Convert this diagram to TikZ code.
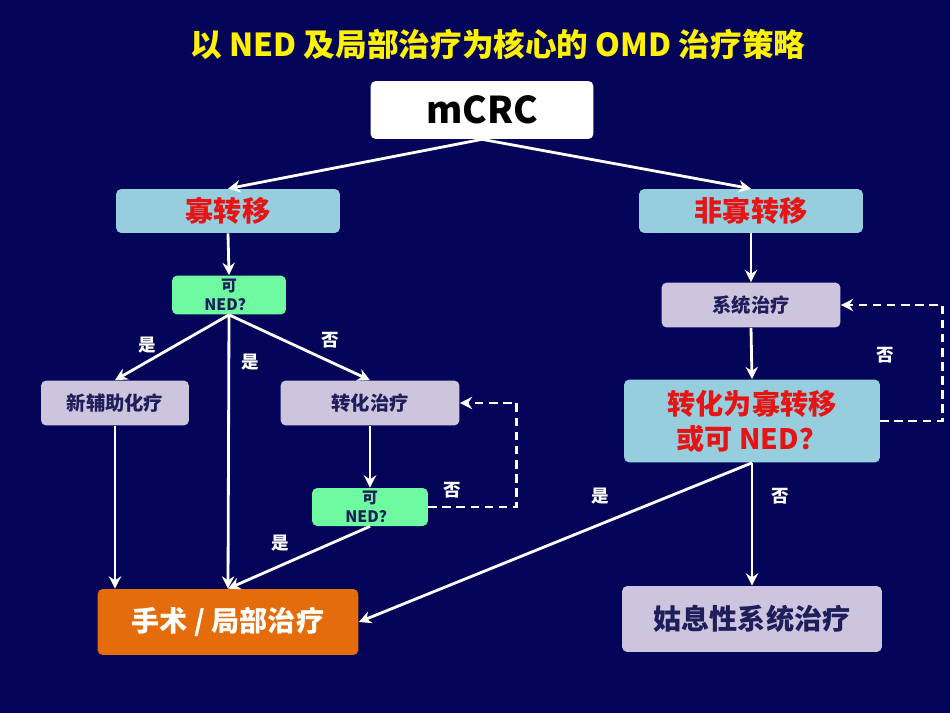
\documentclass[tikz,border=0pt]{standalone}
\usepackage{fontspec}
\setmainfont{Noto Sans CJK SC}
\usetikzlibrary{arrows.meta}
\definecolor{navy}{RGB}{4,4,88}
\definecolor{boxblue}{RGB}{150,206,222}
\definecolor{boxlav}{RGB}{205,196,222}
\definecolor{boxgreen}{RGB}{110,250,160}
\definecolor{boxorange}{RGB}{228,108,10}
\definecolor{txtred}{RGB}{230,20,20}
\definecolor{txtnavy}{RGB}{30,30,90}
\tikzset{
  box/.style={draw=none,rounded corners=3pt,inner sep=0pt,align=center,font=\bfseries},
  flow/.style={draw=white,line width=1.6pt,-{Stealth[length=7pt,width=7pt]}},
  back/.style={flow,dash pattern=on 5pt off 3pt},
  lbl/.style={text=white,font=\bfseries\fontsize{10}{12}\selectfont}
}
\begin{document}
\begin{tikzpicture}[x=0.02cm,y=-0.02cm]
  \fill[navy] (0,0) rectangle (950,713);
  %title
  \node[text=yellow,font=\bfseries\fontsize{18}{20}\selectfont] (title) at (498,44) {以 NED 及局部治疗为核心的 OMD 治疗策略};
  %boxes
  \node[box,fill=white,minimum width=4.46cm,minimum height=1.16cm,font=\bfseries\fontsize{21}{24}\selectfont] (mcrc) at (482,110) {mCRC};
  \node[box,fill=boxblue,text=txtred,minimum width=4.48cm,minimum height=0.88cm,font=\bfseries\fontsize{16}{18}\selectfont] (oligo) at (228,211) {寡转移};
  \node[box,fill=boxblue,text=txtred,minimum width=4.48cm,minimum height=0.88cm,font=\bfseries\fontsize{16}{18}\selectfont] (nonoligo) at (751,211) {非寡转移};
  \node[box,fill=boxgreen,text=txtnavy,minimum width=2.28cm,minimum height=0.78cm,font=\bfseries\fontsize{9}{11}\selectfont] (ned1) at (229,295) {可\\NED？};
  \node[box,fill=boxlav,text=txtnavy,minimum width=2.96cm,minimum height=0.9cm,font=\bfseries\fontsize{11}{13}\selectfont] (neoadj) at (115,403) {新辅助化疗};
  \node[box,fill=boxlav,text=txtnavy,minimum width=3.58cm,minimum height=0.9cm,font=\bfseries\fontsize{11}{13}\selectfont] (conv) at (370,403) {转化治疗};
  \node[box,fill=boxgreen,text=txtnavy,minimum width=2.32cm,minimum height=0.76cm,font=\bfseries\fontsize{9}{11}\selectfont] (ned2) at (370,507) {可\\NED？};
  \node[box,fill=boxorange,text=white,minimum width=5.22cm,minimum height=1.32cm,font=\bfseries\fontsize{16}{18}\selectfont] (surg) at (228,622) {手术 / 局部治疗};
  \node[box,fill=boxlav,text=txtnavy,minimum width=3.58cm,minimum height=0.9cm,font=\bfseries\fontsize{11}{13}\selectfont] (sys) at (751,305) {系统治疗};
  \node[box,fill=boxblue,text=txtred,minimum width=5.12cm,minimum height=1.66cm,font=\bfseries\fontsize{16}{20}\selectfont] (conv2) at (752,421) {转化为寡转移\\或可 NED？};
  \node[box,fill=boxlav,text=txtnavy,minimum width=5.2cm,minimum height=1.32cm,font=\bfseries\fontsize{16}{18}\selectfont] (pall) at (752,619) {姑息性系统治疗};
  %connectors
  \draw[flow] (mcrc.south) -- (oligo.north);
  \draw[flow] (mcrc.south) -- (nonoligo.north);
  \draw[flow] (oligo.south) -- (ned1.north);
  \draw[flow] (ned1.south) -- (neoadj.north);
  \draw[flow] (ned1.south) -- (surg.north);
  \draw[flow] (ned1.south) -- (conv.north);
  \draw[flow] (neoadj.south) -- (neoadj.south |- surg.north);
  \draw[flow] (conv.south) -- (ned2.north);
  \draw[flow] (ned2.south) -- (surg.north);
  \draw[back] (ned2.east) -- ++(88,0) |- (conv.east);
  \draw[flow] (nonoligo.south) -- (sys.north);
  \draw[flow] (sys.south) -- (conv2.north);
  \draw[back] (conv2.east) -- ++(62,0) |- (sys.east);
  \draw[flow] (conv2.south) -- (surg.east);
  \draw[flow] (conv2.south) -- (pall.north);
  %labels
  \node[lbl] (y1) at (147,345) {是};
  \node[lbl] (y2) at (250,362) {是};
  \node[lbl] (n1) at (330,340) {否};
  \node[lbl] (n2) at (452,490) {否};
  \node[lbl] (y3) at (280,543) {是};
  \node[lbl] (y4) at (600,496) {是};
  \node[lbl] (n3) at (780,496) {否};
  \node[lbl] (n4) at (885,355) {否};
\end{tikzpicture}
\end{document}
